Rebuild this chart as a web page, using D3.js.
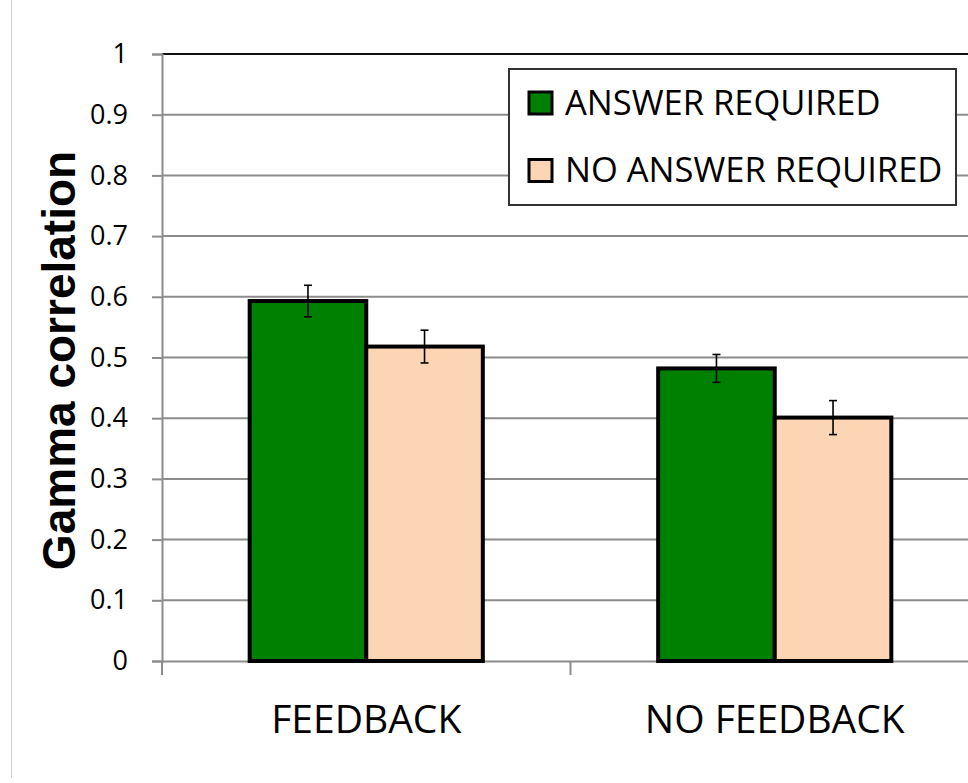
<!DOCTYPE html>
<html>
<head>
<meta charset="utf-8">
<script src="https://d3js.org/d3.v7.min.js"></script>
<style>
  html, body { margin: 0; padding: 0; background: #fff; }
  svg { display: block; }
</style>
</head>
<body>
<div id="chart"></div>
<script>
// Chart data
const categories = ["FEEDBACK", "NO FEEDBACK"];
const seriesNames = ["ANSWER REQUIRED", "NO ANSWER REQUIRED"];
const answerRequired = [0.593, 0.482];
const noAnswerRequired = [0.518, 0.401];
const answerErr = [0.026, 0.023];
const noAnswerErr = [0.027, 0.028];
const yTicks = [0, 0.1, 0.2, 0.3, 0.4, 0.5, 0.6, 0.7, 0.8, 0.9, 1];

const colors = ["#008000", "#fcd5b5"];

const width = 968;
const height = 783;
const margin = {left: 162, right: -11, top: 54, bottom: 122};

const svg = d3.select("#chart")
  .append("svg")
  .attr("width", width)
  .attr("height", height);

// faint frame line on the left
svg.append("line")
  .attr("x1", 11.5).attr("x2", 11.5)
  .attr("y1", 0).attr("y2", 778)
  .attr("stroke", "#d0d0d0")
  .attr("stroke-width", 1);

// Scales
const yScale = d3.scaleLinear()
  .domain([0, 1])
  .range([height - margin.bottom, margin.top]);

const xScale = d3.scaleBand()
  .domain(categories)
  .range([margin.left, width - margin.right])
  .padding(0);

const xInner = d3.scaleBand()
  .domain(seriesNames)
  .range([0, xScale.bandwidth()])
  .paddingInner(0)
  .paddingOuter(0.752);

// Gridlines
svg.append("g")
  .selectAll("line")
  .data(yTicks.filter(t => t > 0 && t < 1))
  .join("line")
    .attr("x1", margin.left)
    .attr("x2", width)
    .attr("y1", d => yScale(d))
    .attr("y2", d => yScale(d))
    .attr("stroke", "#8c8c8c")
    .attr("stroke-width", 2);

// top border of plot
svg.append("line")
  .attr("x1", margin.left).attr("x2", width)
  .attr("y1", yScale(1)).attr("y2", yScale(1))
  .attr("stroke", "#111")
  .attr("stroke-width", 2);

// Y axis
const yAxis = svg.append("g")
  .attr("transform", `translate(${margin.left},0)`)
  .call(d3.axisLeft(yScale)
    .tickValues(yTicks)
    .tickFormat(d => d === 0 || d === 1 ? d3.format("d")(d) : d3.format(".1f")(d))
    .tickSize(10)
    .tickPadding(24));
yAxis.select(".domain").attr("stroke", "#8c8c8c").attr("stroke-width", 2);
yAxis.selectAll(".tick line").attr("stroke", "#8c8c8c").attr("stroke-width", 2);
yAxis.selectAll(".tick text")
  .attr("font-family", "'Open Sans', sans-serif")
  .attr("font-size", "27px")
  .attr("fill", "#000");

// X axis
const xAxis = svg.append("g")
  .attr("transform", `translate(0,${yScale(0)})`)
  .call(d3.axisBottom(xScale).tickSize(0).tickFormat(""));
xAxis.select(".domain").attr("stroke", "#8c8c8c").attr("stroke-width", 2);

// category boundary ticks
svg.append("g")
  .selectAll("line")
  .data(categories)
  .join("line")
    .attr("x1", d => xScale(d))
    .attr("x2", d => xScale(d))
    .attr("y1", yScale(0))
    .attr("y2", yScale(0) + 14)
    .attr("stroke", "#8c8c8c")
    .attr("stroke-width", 2);

// category labels
svg.append("g")
  .selectAll("text")
  .data(categories)
  .join("text")
    .attr("x", d => xScale(d) + xScale.bandwidth() / 2)
    .attr("y", 733)
    .attr("text-anchor", "middle")
    .attr("font-family", "'Open Sans', sans-serif")
    .attr("font-size", "39px")
    .attr("fill", "#000")
    .text(d => d);

// Bars
const rows = categories.map((c, i) => ({
  category: c,
  values: [
    {series: seriesNames[0], value: answerRequired[i], err: answerErr[i], color: colors[0]},
    {series: seriesNames[1], value: noAnswerRequired[i], err: noAnswerErr[i], color: colors[1]}
  ]
}));

const groups = svg.append("g")
  .selectAll("g")
  .data(rows)
  .join("g")
    .attr("transform", d => `translate(${xScale(d.category)},0)`);

groups.selectAll("rect")
  .data(d => d.values)
  .join("rect")
    .attr("x", d => xInner(d.series))
    .attr("y", d => yScale(d.value))
    .attr("width", xInner.bandwidth())
    .attr("height", d => yScale(0) - yScale(d.value))
    .attr("fill", d => d.color)
    .attr("stroke", "#000")
    .attr("stroke-width", 4);

// Error bars
const errG = groups.selectAll(".err")
  .data(d => d.values)
  .join("g")
    .attr("class", "err")
    .attr("stroke", "#000")
    .attr("stroke-width", 1.6);

errG.append("line")
  .attr("x1", d => xInner(d.series) + xInner.bandwidth() / 2)
  .attr("x2", d => xInner(d.series) + xInner.bandwidth() / 2)
  .attr("y1", d => yScale(d.value + d.err))
  .attr("y2", d => yScale(d.value - d.err));

errG.selectAll(".cap")
  .data(d => [d.value + d.err, d.value - d.err].map(v => ({v, d})))
  .join("line")
    .attr("class", "cap")
    .attr("x1", e => xInner(e.d.series) + xInner.bandwidth() / 2 - 4)
    .attr("x2", e => xInner(e.d.series) + xInner.bandwidth() / 2 + 4)
    .attr("y1", e => yScale(e.v))
    .attr("y2", e => yScale(e.v));

// Y axis title
svg.append("text")
  .attr("transform", `translate(75, ${yScale(0.5) + 3}) rotate(-90)`)
  .attr("text-anchor", "middle")
  .attr("font-family", "'Liberation Sans', Arial, sans-serif")
  .attr("font-weight", "bold")
  .attr("font-size", "46px")
  .attr("fill", "#000")
  .text("Gamma correlation");

// Legend
const legend = svg.append("g")
  .attr("transform", "translate(509,69)");

legend.append("rect")
  .attr("width", 447)
  .attr("height", 136)
  .attr("fill", "#fff")
  .attr("stroke", "#333")
  .attr("stroke-width", 2);

const legendItems = legend.selectAll(".item")
  .data(seriesNames)
  .join("g")
    .attr("class", "item")
    .attr("transform", (d, i) => `translate(20, ${23 + i * 67.5})`);

legendItems.append("rect")
  .attr("width", 23)
  .attr("height", 22)
  .attr("fill", (d, i) => colors[i])
  .attr("stroke", "#000")
  .attr("stroke-width", 3);

legendItems.append("text")
  .attr("x", 36)
  .attr("y", 22.5)
  .attr("font-family", "'Open Sans', sans-serif")
  .attr("font-size", "34.5px")
  .attr("fill", "#000")
  .text(d => d);
</script>
</body>
</html>
